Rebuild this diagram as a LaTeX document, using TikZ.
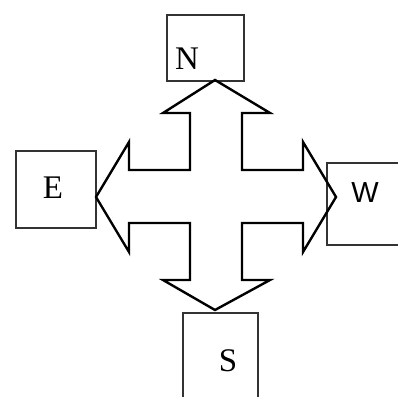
\documentclass[tikz,border=0pt]{standalone}
\usepackage{fontspec}
\setmainfont{Liberation Serif}
\newfontfamily\wfont{Liberation Sans}
\begin{document}
\begin{tikzpicture}[x=1pt,y=-1pt,
  box/.style={draw=black!80, line width=2.4pt, inner sep=0pt, anchor=north west},
  lbl/.style={inner sep=0pt, font=\fontsize{33}{33}\selectfont},
  cross/.style={draw=black, line width=2.4pt, line join=miter}]
\useasboundingbox (0,0) rectangle (398,396);
% boxes
\node[box, minimum width=77pt, minimum height=66pt] (Nbox) at (166,14) {};
\node[box, minimum width=80pt, minimum height=77pt] (Ebox) at (15,150) {};
\node[box, minimum width=80pt, minimum height=82pt] (Wbox) at (326,162) {};
\node[box, minimum width=75pt, minimum height=100pt] (Sbox) at (182,312) {};
% labels
\node[lbl] (N) at (187,59) {N};
\node[lbl] (E) at (53,188) {E};
\node[lbl, font=\wfont\fontsize{29}{29}\selectfont] (W) at (365,193) {W};
\node[lbl] (S) at (228,361) {S};
% four-way arrow
\draw[cross] (215,80) -- (270,113) -- (242,113) -- (242,170) -- (303,170) -- (303,142)
  -- (336,197) -- (303,252) -- (303,223) -- (242,223) -- (242,280) -- (270,280)
  -- (215,310) -- (163,280) -- (190,280) -- (190,223) -- (129,223) -- (129,252)
  -- (96,197) -- (129,142) -- (129,170) -- (190,170) -- (190,113) -- (163,113) -- cycle;
\end{tikzpicture}
\end{document}
